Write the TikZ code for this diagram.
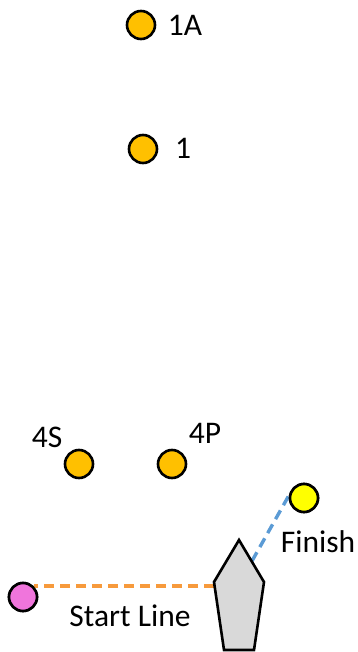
\documentclass[tikz,border=0pt]{standalone}
\usepackage{fontspec}
\setmainfont{Carlito}
\definecolor{markgold}{HTML}{FFC000}
\definecolor{startpink}{HTML}{F075DC}
\definecolor{finishyel}{HTML}{FFFF00}
\definecolor{startorange}{HTML}{F79A3C}
\definecolor{finishblue}{HTML}{5B9BD5}
\definecolor{boatgrey}{HTML}{D9D9D9}
\tikzset{
  x=1pt,y=-1pt,
  mark dot/.style={circle,draw=black,line width=2.6pt,minimum size=28pt,inner sep=0pt,fill=#1},
  lbl/.style={font=\fontsize{31.5}{36}\selectfont,text=black,inner sep=0pt,anchor=center},
  line link/.style={line width=3.4pt,dash pattern=on 10pt off 6pt,draw=#1}
}
\begin{document}
\begin{tikzpicture}
\useasboundingbox (0,0) rectangle (358,652);
\coordinate (tip) at (239,540);
\coordinate (rs) at (264,582);
\coordinate (br) at (254,650);
\coordinate (bl) at (224,650);
\coordinate (ls) at (214,582);
\coordinate (boatstart) at (214,586);
\coordinate (boatfin) at (252,561);
\node[mark dot=markgold] (m1a) at (141,25) {};
\node[mark dot=markgold] (m1) at (143,149) {};
\node[mark dot=markgold] (m4s) at (79,464) {};
\node[mark dot=markgold] (m4p) at (172,464) {};
\node[mark dot=finishyel] (fin) at (304,498) {};
\node[mark dot=startpink] (sta) at (23,597) {};
\draw[line link=startorange] (boatstart) -- (boatstart -| sta.45);
\draw[line link=finishblue] (boatfin) -- (fin.170);
\draw[fill=boatgrey,draw=black,line width=2.6pt,line join=miter] (tip) -- (rs) -- (br) -- (bl) -- (ls) -- cycle;
\node[mark dot=finishyel] at (fin) {};
\node[mark dot=startpink] at (sta) {};
\node[lbl] (t1a) at (185,25) {1A};
\node[lbl] (t1) at (183,148) {1};
\node[lbl] (t4s) at (47,437) {4S};
\node[lbl] (t4p) at (205,433) {4P};
\node[lbl] (tf) at (318,542) {Finish};
\node[lbl] (ts) at (130,616) {Start Line};
\end{tikzpicture}
\end{document}
